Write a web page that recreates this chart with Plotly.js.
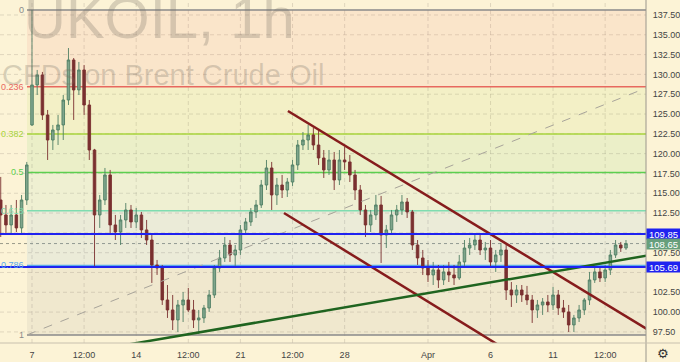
<!DOCTYPE html>
<html>
<head>
<meta charset="utf-8">
<script src="https://cdn.plot.ly/plotly-3.0.1.min.js"></script>
<style>html,body{margin:0;padding:0;background:#fcf3d6;}#chart{width:680px;height:362px;}</style>
</head>
<body>
<div id="chart"></div>
<script>
// ---- data (UKOIL 6h-sampled bars, trading-day index: 0 = Mon 7 Mar 00:00) ----
const firstBarDay = -1.5;
const barStep = 0.25;
const openPrices = [114.15,112.26,111.00,112.26,110.62,114.15,123.62,128.67,129.93,124.88,
121.72,122.99,123.62,126.77,131.82,128.04,130.56,126.14,120.46,112.26,
114.15,117.31,111.00,110.11,111.63,112.89,111.38,112.26,110.37,109.10,
105.95,105.57,101.53,100.27,99.01,100.90,101.53,100.27,99.01,99.26,
100.52,102.16,105.57,106.83,108.47,107.21,107.84,110.37,111.38,112.64,
113.52,116.04,118.19,114.78,116.04,115.41,116.42,118.57,121.09,121.72,
122.36,121.09,119.45,117.94,119.20,116.68,119.20,118.95,117.31,115.41,
112.89,111.00,112.26,113.52,109.73,110.37,112.26,112.89,113.90,112.64,
108.47,106.83,105.57,104.69,105.32,104.06,105.07,104.69,104.31,106.33,
108.09,108.47,109.10,107.84,108.09,106.33,107.21,107.84,102.79,102.16,
102.79,102.16,101.53,100.27,100.90,101.28,100.90,102.16,100.52,100.02,
98.38,99.26,100.27,101.53,104.06,105.07,104.31,105.32,107.21,108.47,
108.09];
const highPrices = [117.06,113.52,113.52,114.15,114.78,118.95,138.13,130.56,130.31,125.51,
123.62,124.88,127.40,133.33,132.07,131.57,131.19,126.77,120.60,114.78,
118.19,117.94,112.26,112.26,113.77,113.52,113.14,112.64,111.63,109.73,
106.58,105.95,103.42,102.16,101.53,102.54,103.05,101.53,100.27,100.90,
102.79,105.95,107.84,109.48,109.10,108.47,111.00,111.88,113.14,114.15,
116.68,119.20,118.95,116.93,117.31,116.93,119.20,121.72,122.73,123.62,
123.24,122.99,120.46,120.46,120.21,120.46,120.84,119.83,117.94,116.04,
113.52,112.89,114.78,114.66,111.00,112.89,113.52,114.78,114.40,112.89,
109.10,107.84,106.58,106.33,105.95,105.95,106.33,105.95,107.21,109.10,
109.36,109.73,109.73,108.85,109.10,107.84,108.72,108.47,103.80,103.42,
103.42,103.30,102.16,101.53,101.78,102.16,103.17,102.79,101.53,100.90,
99.64,100.90,101.78,105.07,105.57,105.57,105.95,107.84,109.10,108.85,
109.10];
const lowPrices = [109.48,109.99,109.73,110.11,109.99,113.52,123.50,127.40,124.25,119.20,
120.46,121.09,121.72,126.14,124.25,127.40,124.88,119.20,105.70,110.62,
113.52,109.73,109.10,108.47,110.62,110.62,110.62,109.36,108.47,103.68,
104.69,100.90,99.26,97.74,97.49,98.75,100.02,97.99,97.24,98.63,
100.02,101.78,105.07,106.33,106.33,105.82,107.21,109.73,110.87,111.88,
113.14,115.41,112.89,113.52,114.40,114.53,115.92,117.94,120.46,120.46,
120.46,118.57,116.93,117.31,115.41,116.04,117.94,116.42,114.15,112.26,
109.48,110.11,111.63,106.20,108.09,109.73,111.38,112.26,111.88,107.84,
105.95,104.69,103.80,103.42,103.05,103.42,103.80,103.42,104.06,105.57,
107.21,107.84,107.21,106.58,105.57,105.07,106.33,101.53,100.65,101.15,
101.28,100.90,98.63,99.26,99.64,100.02,100.27,99.64,99.26,97.49,
97.49,98.75,99.64,100.90,103.68,103.80,103.80,104.69,106.83,107.59,
107.84];
const closePrices = [112.26,111.00,112.26,110.62,114.15,118.57,128.67,129.93,124.88,121.72,
122.99,123.62,126.77,131.82,128.04,130.56,126.14,120.46,112.26,114.15,
117.31,111.00,110.11,111.63,112.89,111.38,112.26,110.37,109.10,105.95,
105.57,101.53,100.27,99.01,100.90,101.53,100.27,99.01,99.26,100.52,
102.16,105.57,106.83,108.47,107.21,107.84,110.37,111.38,112.64,113.52,
116.04,118.19,114.78,116.04,115.41,116.42,118.57,121.09,121.72,122.36,
121.09,119.45,117.94,119.20,116.68,119.20,118.95,117.31,115.41,112.89,
111.00,112.26,113.52,109.73,110.37,112.26,112.89,113.90,112.64,108.47,
106.83,105.57,104.69,105.32,104.06,105.07,104.69,104.31,106.33,108.09,
108.47,109.10,107.84,108.09,106.33,107.21,107.84,102.79,102.16,102.79,
102.16,101.53,100.27,100.90,101.28,100.90,102.16,100.52,100.02,98.38,
99.26,100.27,101.53,104.06,105.07,104.31,105.32,107.21,108.47,108.09,
108.65];

// x-axis ticks (trading-day index) and labels
const xTickDays = [0, 2.5, 5, 7.5, 10, 12.5, 15, 19, 22, 25, 27.5];
const xTickLabels = ['7','12:00','14','12:00','21','12:00','28','Apr','6','11','12:00'];
// price-axis ticks (110.00 / 105.00 sit under the level boxes)
const yTicks = [97.5,100,102.5,107.5,112.5,115,117.5,120,122.5,125,127.5,130,132.5,135,137.5];
const yGrid = [97.5,100,102.5,105,107.5,110,112.5,115,117.5,120,122.5,125,127.5,130,132.5,135,137.5];

// Fibonacci retracement
const fibHigh = 138.13, fibLow = 97.12, fibStartDay = -0.24;
const fibRatios = [0, 0.236, 0.382, 0.5, 0.618, 0.786, 1];
const fibLabels = ['0','0.236','0.382','0.5','0.618','0.786','1'];
const fibColors = ['#8a8a8a','#e8685f','#a8d43c','#5ccf4f','#7fdcb0','#5aa9ea','#8a8a8a'];

// horizontal key levels and last price
const keyLevels = [109.85, 105.69];
const lastPrice = 108.65;

// trend lines: [day, price] endpoints
const fibTrendDays = [-0.24, 29.46], fibTrendPrices = [97.12, 128.28];
const upperChannelDays = [12.28, 29.6], upperChannelPrices = [125.38, 97.70];
const lowerChannelDays = [12.09, 23.0], lowerChannelPrices = [112.51, 94.84];
const supportDays = [4.0, 29.6], supportPrices = [95.63, 107.17];

const xRange = [-1.535, 29.46];
const yRange = [96.10, 139.39];

// ---- build ----
const barDays = closePrices.map((_, i) => firstBarDay + i * barStep);
const fibLevels = fibRatios.map(r => fibHigh - r * (fibHigh - fibLow));

function hexA(hex, a) {
  const n = parseInt(hex.slice(1), 16);
  return `rgba(${(n>>16)&255},${(n>>8)&255},${n&255},${a})`;
}

const shapes = [];
// fib zone fills
for (let k = 1; k < fibLevels.length; k++) {
  shapes.push({type:'rect', layer:'below', xref:'x', yref:'y', x0:fibStartDay, x1:40,
    y0:fibLevels[k-1], y1:fibLevels[k], fillcolor:hexA(fibColors[k], 0.10), line:{width:0}});
}
// dashed grid
yGrid.forEach(v => shapes.push({type:'line', layer:'below', xref:'paper', yref:'y', x0:0, x1:1, y0:v, y1:v,
  line:{color:'rgba(190,180,160,0.45)', width:1, dash:'4px,3px'}}));
xTickDays.forEach(v => shapes.push({type:'line', layer:'below', xref:'x', yref:'paper', x0:v, x1:v, y0:0, y1:1,
  line:{color:'rgba(190,180,160,0.45)', width:1, dash:'4px,3px'}}));
// fib lines
fibLevels.forEach((lv, k) => {
  shapes.push({type:'line', layer:'between', xref:'x', yref:'y', x0:fibStartDay, x1:40, y0:lv, y1:lv,
    line:{color:fibColors[k], width:1.5}});
});
// last price dotted line
shapes.push({type:'line', layer:'between', xref:'paper', yref:'y', x0:0, x1:1, y0:lastPrice, y1:lastPrice,
  line:{color:'#9a9a8a', width:1, dash:'dot'}});
// key levels
keyLevels.forEach(lv => shapes.push({type:'line', layer:'above', xref:'paper', yref:'y', x0:0, x1:1, y0:lv, y1:lv,
  line:{color:'#1f22f0', width:2}}));
// right and bottom borders
shapes.push({type:'line', layer:'above', xref:'paper', yref:'paper', x0:1, x1:1, y0:-0.06, y1:1,
  line:{color:'#9a968c', width:1}});
shapes.push({type:'line', layer:'above', xref:'paper', yref:'paper', x0:0, x1:1.06, y0:0, y1:0,
  line:{color:'#c8c0ae', width:1}});

const traces = [
  {type:'candlestick', x:barDays, open:openPrices, high:highPrices, low:lowPrices, close:closePrices,
   increasing:{line:{color:'#4f7f64', width:0.9}, fillcolor:'#7fa58c'},
   decreasing:{line:{color:'#7a3030', width:0.9}, fillcolor:'#7a3030'},
   whiskerwidth:0, hoverinfo:'skip'},
  {type:'scatter', mode:'lines', x:fibTrendDays, y:fibTrendPrices, line:{color:'#a8a49a', width:1, dash:'dash'}, hoverinfo:'skip'},
  {type:'scatter', mode:'lines', x:upperChannelDays, y:upperChannelPrices, line:{color:'#861c1c', width:2.5}, hoverinfo:'skip'},
  {type:'scatter', mode:'lines', x:lowerChannelDays, y:lowerChannelPrices, line:{color:'#861c1c', width:2.5}, hoverinfo:'skip'},
  {type:'scatter', mode:'lines', x:supportDays, y:supportPrices, line:{color:'#1f641f', width:2.5}, hoverinfo:'skip'}
];

const tickFont = {family:'Liberation Sans Narrow, Liberation Sans, Arial, sans-serif', size:9, color:'#444'};
const annotations = [];
// watermarks
annotations.push({xref:'paper', yref:'paper', x:297/646, y:1 - 52/343, xanchor:'right', yanchor:'bottom',
  text:'UKOIL, 1h', showarrow:false, font:{family:'Liberation Sans, Arial, sans-serif', size:58, color:'rgba(120,112,100,0.28)'}});
annotations.push({xref:'paper', yref:'paper', x:326/646, y:1 - 75/343, xanchor:'right', yanchor:'middle',
  text:'CFDs on Brent Crude Oil', showarrow:false, font:{family:'Liberation Sans, Arial, sans-serif', size:29, color:'rgba(120,112,100,0.28)'}});
// fib labels
fibLevels.forEach((lv, k) => annotations.push({xref:'x', yref:'y', x:fibStartDay, y:lv, xanchor:'right', yanchor:'middle',
  xshift:-1, text:fibLabels[k], showarrow:false, font:{family:tickFont.family, size:9, color:fibColors[k]}}));
// price boxes
function priceBox(v, bg) {
  return {xref:'paper', yref:'y', x:1, y:v, xanchor:'left', yanchor:'middle', text:v.toFixed(2), showarrow:false,
    bgcolor:bg, width:33, height:10, borderpad:0, align:'center',
    font:{family:tickFont.family, size:9.5, color:'#ffffff'}};
}
keyLevels.forEach(lv => annotations.push(priceBox(lv, '#1f22f0')));
annotations.push(priceBox(lastPrice, '#679f7c'));
// gear icon
annotations.push({xref:'paper', yref:'paper', x:1, y:0, xshift:17, yshift:-10, xanchor:'center', yanchor:'middle',
  text:'⚙', showarrow:false, font:{family:'DejaVu Sans', size:13, color:'#333'}});

const layout = {
  width:680, height:362,
  margin:{l:0, r:34, t:0, b:19},
  paper_bgcolor:'#fcf3d6', plot_bgcolor:'#fcf3d6',
  showlegend:false, hovermode:false,
  xaxis:{range:xRange, tickvals:xTickDays, ticktext:xTickLabels, showgrid:false,
    zeroline:false, rangeslider:{visible:false}, tickfont:tickFont, ticks:'outside', ticklen:3,
    tickcolor:'rgba(0,0,0,0)', fixedrange:true, showline:false},
  yaxis:{range:yRange, side:'right', tickvals:yTicks, tickformat:'.2f', showgrid:false,
    zeroline:false, tickfont:tickFont, ticks:'outside', ticklen:4, tickcolor:'rgba(0,0,0,0)', fixedrange:true},
  shapes:shapes, annotations:annotations
};

Plotly.newPlot('chart', traces, layout, {staticPlot:true, displayModeBar:false});
</script>
</body>
</html>
